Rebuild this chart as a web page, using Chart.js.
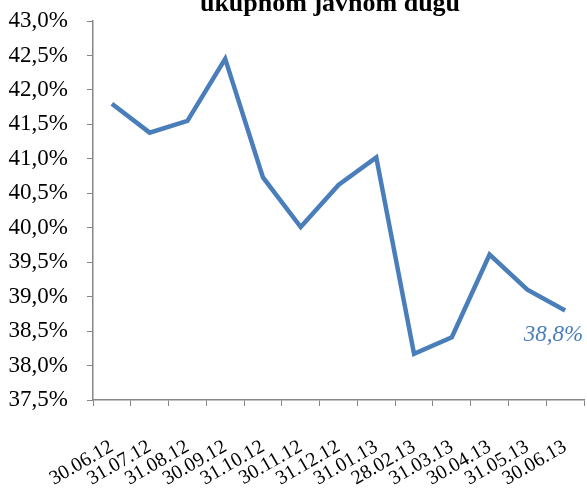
<!DOCTYPE html>
<html>
<head>
<meta charset="utf-8">
<title>Udio u ukupnom javnom dugu</title>
<script src="https://cdn.jsdelivr.net/npm/chart.js@4/dist/chart.umd.min.js"></script>
<style>
    body { margin: 0; background: #fff; }
    #wrap { width: 587px; height: 488px; position: relative; }
</style>
</head>
<body>
<div id="wrap"><canvas id="chart"></canvas></div>
<script>
    const dates = ['30.06.12', '31.07.12', '31.08.12', '30.09.12', '31.10.12', '30.11.12', '31.12.12',
                   '31.01.13', '28.02.13', '31.03.13', '30.04.13', '31.05.13', '30.06.13'];
    const shares = [41.8, 41.38, 41.55, 42.45, 40.73, 40.01, 40.62, 41.02, 38.17, 38.41, 39.61, 39.1, 38.8];
    const yMin = 37.5, yMax = 43.0, yStep = 0.5;
    const titleText = 'ukupnom javnom dugu';

    const serif = '"Liberation Serif", "Times New Roman", serif';
    const lineColor = '#4A7EBB';
    const axisColor = '#868686';

    function pct(v) {
        return v.toFixed(1).replace('.', ',') + '%';
    }

    // title is cut off at the top edge in the original, so draw it by hand
    const cutTitle = {
        id: 'cutTitle',
        afterDraw(chart) {
            const ctx = chart.ctx;
            ctx.save();
            ctx.font = 'bold 26px ' + serif;
            ctx.fillStyle = '#000';
            ctx.textAlign = 'center';
            ctx.textBaseline = 'alphabetic';
            ctx.fillText(titleText, 330, 11);
            ctx.restore();
        }
    };

    // value label next to the last point
    const lastLabel = {
        id: 'lastLabel',
        afterDatasetsDraw(chart) {
            const meta = chart.getDatasetMeta(0);
            const pt = meta.data[meta.data.length - 1];
            const ctx = chart.ctx;
            ctx.save();
            ctx.font = 'italic 23px ' + serif;
            ctx.fillStyle = lineColor;
            ctx.textAlign = 'right';
            ctx.textBaseline = 'middle';
            ctx.fillText(pct(shares[shares.length - 1]), pt.x + 18, pt.y + 25);
            ctx.restore();
        }
    };

    new Chart(document.getElementById('chart'), {
        type: 'line',
        data: {
            labels: dates,
            datasets: [{
                data: shares,
                borderColor: lineColor,
                borderWidth: 4.5,
                pointRadius: 0,
                tension: 0,
                fill: false
            }]
        },
        options: {
            animation: false,
            responsive: true,
            maintainAspectRatio: false,
            layout: { padding: { right: 3, left: 0, top: 21, bottom: 0 } },
            plugins: {
                legend: { display: false },
                tooltip: { enabled: false },
                title: { display: false }
            },
            scales: {
                x: {
                    offset: true,
                    grid: { offset: true, drawOnChartArea: false, tickLength: 6, color: axisColor },
                    border: { color: axisColor, width: 1.5 },
                    ticks: {
                        color: '#000',
                        font: { family: serif, size: 20 },
                        maxRotation: 30,
                        minRotation: 30,
                        autoSkip: false,
                        padding: 29
                    },
                    afterFit(scale) {
                        scale.height = 88;
                        scale.paddingLeft = 0;
                        scale.paddingRight = 0;
                    }
                },
                y: {
                    min: yMin,
                    max: yMax,
                    grid: { drawOnChartArea: false, tickLength: 6, color: axisColor },
                    border: { color: axisColor, width: 1.5 },
                    ticks: {
                        stepSize: yStep,
                        color: '#000',
                        font: { family: serif, size: 23 },
                        padding: 19,
                        callback: v => pct(v)
                    },
                    afterFit(scale) {
                        scale.width = 93;
                        scale.paddingTop = 0;
                        scale.paddingBottom = 0;
                    }
                }
            }
        },
        plugins: [lastLabel, cutTitle]
    });
</script>
</body>
</html>
